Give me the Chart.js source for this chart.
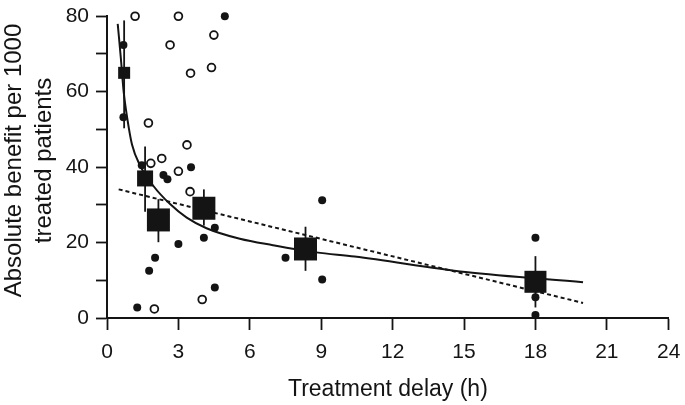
<!DOCTYPE html>
<html>
<head>
<meta charset="utf-8">
<script src="https://cdn.jsdelivr.net/npm/chart.js@4.4.1/dist/chart.umd.min.js"></script>
<style>
  html, body { margin: 0; padding: 0; background: #fff; }
  #wrap { width: 685px; height: 405px; }
</style>
</head>
<body>
<div id="wrap"><canvas id="benefitChart"></canvas></div>
<script>
// per-trial results (filled = trials, open = other trials)
var filledX = [0.69, 0.69, 4.95, 1.46, 3.53, 2.37, 2.54, 4.53, 4.07, 3.00, 2.02, 1.77, 4.53, 1.27, 9.04, 7.50, 9.04, 18.0, 18.0, 18.0];
var filledY = [72.4, 53.2, 80.0, 40.5, 40.0, 37.9, 36.8, 23.9, 21.3, 19.6, 16.0, 12.5, 8.1, 2.8, 31.2, 16.0, 10.2, 21.3, 5.5, 0.8];

var openX = [1.18, 3.00, 4.49, 2.65, 4.39, 3.51, 1.74, 3.36, 2.30, 1.84, 3.00, 3.49, 4.00, 1.99];
var openY = [80.0, 80.0, 75.0, 72.4, 66.4, 64.9, 51.7, 45.9, 42.3, 41.0, 38.9, 33.5, 4.9, 2.4];

// grouped means with error bars
var groupX = [0.72, 1.60, 2.16, 4.07, 8.34, 18.0];
var groupY = [65.0, 37.0, 26.0, 29.1, 18.3, 9.6];
var groupLow = [50.3, 28.2, 20.1, 24.5, 12.5, 2.8];
var groupHigh = [78.9, 45.5, 31.5, 34.1, 24.2, 16.4];

// fitted curve and linear regression
var curveX = [0.45, 0.58, 0.70, 0.85, 1.05, 1.40, 1.95, 2.65, 3.35, 4.18, 5.58, 6.97, 8.79, 10.4, 15.06, 20.0];
var curveY = [78.0, 69.0, 60.0, 53.0, 46.0, 40.3, 35.0, 30.2, 26.6, 23.8, 21.0, 19.3, 17.4, 16.3, 12.2, 9.5];
var linearX = [0.49, 20.0];
var linearY = [34.1, 4.0];

var xTickValues = [0, 3, 6, 9, 12, 15, 18, 21, 23.6];
var xTickLabels = ['0', '3', '6', '9', '12', '15', '18', '21', '24'];
var yTickValues = [0, 10, 20, 30, 40, 50, 60, 70, 80];
var yTickLabels = ['0', '', '20', '', '40', '', '60', '', '80'];

// marker sides in px
var squareSide = [12, 16, 23, 23, 23, 22];

var ink = '#141414';

function pairs(xs, ys) {
    return xs.map(function (x, i) { return { x: x, y: ys[i] }; });
}

var errorBars = {
    id: 'errorBars',
    beforeDatasetsDraw: function (chart) {
        var ctx = chart.ctx;
        var xs = chart.scales.x, ys = chart.scales.y;
        ctx.save();
        ctx.strokeStyle = ink;
        ctx.lineWidth = 1.8;
        groupX.forEach(function (gx, i) {
            var px = xs.getPixelForValue(gx);
            ctx.beginPath();
            ctx.moveTo(px, ys.getPixelForValue(groupLow[i]));
            ctx.lineTo(px, ys.getPixelForValue(groupHigh[i]));
            ctx.stroke();
        });
        ctx.restore();
    }
};

var ctxB = document.getElementById('benefitChart').getContext('2d');
var benefitChart = new Chart(ctxB, {
    type: 'scatter',
    data: {
        datasets: [{
            data: pairs(groupX, groupY),
            pointStyle: 'rect',
            pointRadius: squareSide.map(function (s) { return s / Math.SQRT2; }),
            backgroundColor: ink,
            borderWidth: 0,
            order: 0,
            clip: false
        }, {
            data: pairs(filledX, filledY),
            pointRadius: 4,
            backgroundColor: ink,
            borderWidth: 0,
            order: 1,
            clip: false
        }, {
            data: pairs(openX, openY),
            pointRadius: 3.9,
            backgroundColor: '#fff',
            borderColor: ink,
            borderWidth: 1.8,
            order: 2,
            clip: false
        }, {
            type: 'line',
            data: pairs(curveX, curveY),
            borderColor: ink,
            borderWidth: 2,
            pointRadius: 0,
            cubicInterpolationMode: 'monotone',
            fill: false,
            order: 3
        }, {
            type: 'line',
            data: pairs(linearX, linearY),
            borderColor: ink,
            borderWidth: 2,
            borderDash: [4, 3],
            pointRadius: 0,
            fill: false,
            order: 4
        }]
    },
    options: {
        responsive: true,
        maintainAspectRatio: false,
        animation: false,
        layout: { padding: { top: 12, right: 14, left: 0, bottom: 0 } },
        plugins: {
            legend: { display: false },
            tooltip: { enabled: false }
        },
        scales: {
            x: {
                type: 'linear',
                min: 0,
                max: 23.6,
                afterBuildTicks: function (scale) {
                    scale.ticks = xTickValues.map(function (v) { return { value: v }; });
                },
                afterFit: function (scale) {
                    scale.height = 87;
                    scale.paddingLeft = 0;
                    scale.paddingRight = 0;
                },
                ticks: {
                    autoSkip: false,
                    maxRotation: 0,
                    padding: 10,
                    color: ink,
                    font: { family: 'Liberation Sans', size: 21 },
                    callback: function (v, i) { return xTickLabels[i]; }
                },
                grid: { drawOnChartArea: false, tickLength: 12, tickColor: ink, tickWidth: 1.8 },
                border: { color: ink, width: 2 },
                title: {
                    display: true,
                    text: 'Treatment delay (h)',
                    color: ink,
                    font: { family: 'Liberation Sans', size: 23 },
                    padding: { top: 0, bottom: 2 }
                }
            },
            y: {
                min: 0,
                max: 80,
                afterBuildTicks: function (scale) {
                    scale.ticks = yTickValues.map(function (v) { return { value: v }; });
                },
                afterFit: function (scale) {
                    scale.width = 107;
                    scale.paddingTop = 0;
                    scale.paddingBottom = 0;
                },
                ticks: {
                    autoSkip: false,
                    padding: 7,
                    color: ink,
                    font: { family: 'Liberation Sans', size: 21 },
                    callback: function (v, i) { return yTickLabels[i]; }
                },
                grid: { drawOnChartArea: false, tickLength: 11, tickColor: ink, tickWidth: 1.8 },
                border: { color: ink, width: 2 },
                title: {
                    display: true,
                    text: ['  Absolute benefit per 1000', '  treated patients'],
                    color: ink,
                    font: { family: 'Liberation Sans', size: 24, lineHeight: 1.22 },
                    padding: { top: 0, bottom: 0 }
                }
            }
        }
    },
    plugins: [errorBars]
});
</script>
</body>
</html>
